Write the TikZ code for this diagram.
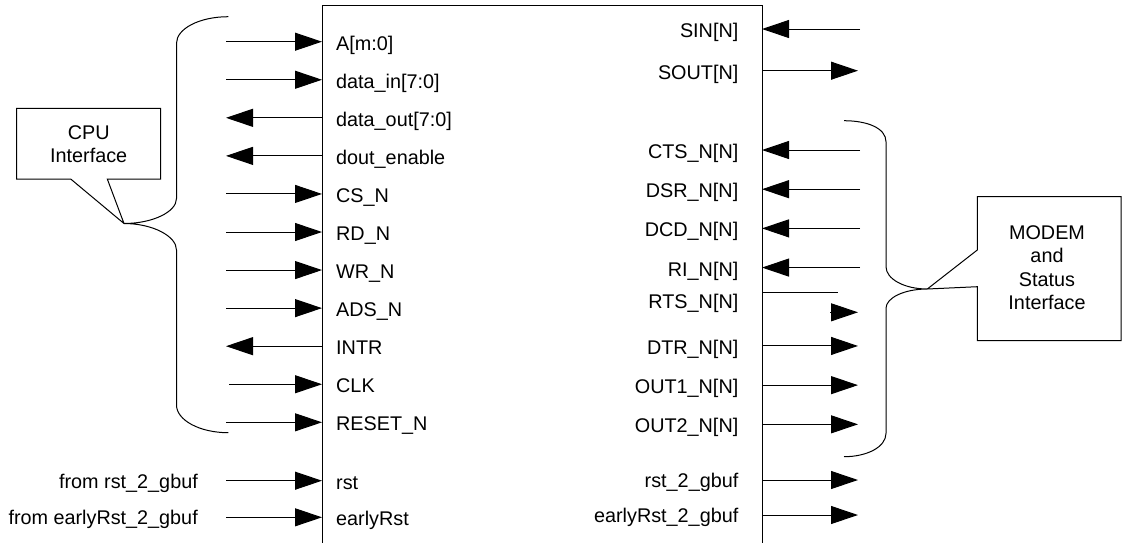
\documentclass[tikz,border=0pt]{standalone}
\usepackage{fontspec}
\setmainfont{Liberation Sans}
\usetikzlibrary{arrows.meta}
\begin{document}
\begin{tikzpicture}[x=1pt,y=-1pt,
  wire/.style={line width=1pt},
  arr/.tip={Triangle[length=27pt,width=18pt]},
  toin/.style={wire,-arr},
  toout/.style={wire,arr-},
  lbl/.style={inner sep=0pt,font=\fontsize{19.8}{23.5}\selectfont},
  callout/.style={inner sep=0pt,align=center,font=\fontsize{19.8}{23.5}\selectfont},
]
\useasboundingbox (0,0) rectangle (1122,542);
% chip outline
\coordinate (chipBL) at (322,546);
\coordinate (chipTL) at (322,5);
\coordinate (chipTR) at (762,5);
\coordinate (chipBR) at (762,546);
\draw[wire] (chipBL) -- (chipTL) -- (chipTR) -- (chipBR);
% left pins
\foreach \i/\t in {0/A[m:0],1/data\_in[7:0],2/data\_out[7:0],3/dout\_enable,4/CS\_N,5/RD\_N,6/WR\_N,7/ADS\_N,8/INTR,9/CLK,10/RESET\_N}{
  \pgfmathsetmacro\yy{41.7+38.06*\i}
  \coordinate (lp\i) at (322,\yy);
  \coordinate (le\i) at (226,\yy);
  \node[lbl,anchor=base west] (lt\i) at (336,\yy+8.3) {\t};
}
\foreach \i in {0,1,4,5,6,7,10}{\draw[toin] (le\i) -- (lp\i);}
\coordinate (le9b) at (229,{41.7+38.06*9});
\draw[toin] (le9b) -- (lp9);
\foreach \i in {2,3,8}{\draw[toout] (le\i) -- (lp\i);}
% reset pins (left)
\coordinate (lpr) at (322,480.7);
\coordinate (ler) at (226,480.7);
\coordinate (lpe) at (322,517.3);
\coordinate (lee) at (226,517.3);
\draw[toin] (ler) -- (lpr);
\draw[toin] (lee) -- (lpe);
\node[lbl,anchor=base west] (ltr) at (336,489) {rst};
\node[lbl,anchor=base west] (lte) at (336,525.6) {earlyRst};
\node[lbl,anchor=base east] (fromr) at (198,488) {from rst\_2\_gbuf};
\node[lbl,anchor=base east] (frome) at (198,524.6) {from earlyRst\_2\_gbuf};
% right pins
\coordinate (rpS) at (762,29);
\coordinate (reS) at (860,29);
\draw[toin] (reS) -- (rpS);
\node[lbl,anchor=base east] (rtS) at (738.5,37.5) {SIN[N]};
\coordinate (rpO) at (762,70.7);
\coordinate (reO) at (858,70.7);
\draw[toin] (rpO) -- (reO);
\node[lbl,anchor=base east] (rtO) at (738.5,79.2) {SOUT[N]};
\foreach \i/\t in {0/CTS\_N[N],1/DSR\_N[N],2/DCD\_N[N],3/RI\_N[N],5/DTR\_N[N],6/OUT1\_N[N],7/OUT2\_N[N]}{
  \pgfmathsetmacro\yy{150+39.19*\i}
  \coordinate (rp\i) at (762,\yy);
  \node[lbl,anchor=base east] (rt\i) at (738.5,\yy+8.5) {\t};
}
\foreach \i in {0,1,2,3}{
  \pgfmathsetmacro\yy{150+39.19*\i}
  \coordinate (re\i) at (860,\yy);
  \draw[toin] (re\i) -- (rp\i);
}
\foreach \i in {5,6,7}{
  \pgfmathsetmacro\yy{150+39.19*\i}
  \coordinate (re\i) at (858,\yy);
  \draw[toin] (rp\i) -- (re\i);
}
% RTS
\coordinate (rp4) at (762,292.3);
\coordinate (re4) at (838,292.3);
\draw[wire] (rp4) -- (re4);
\coordinate (rtsA) at (830,312.3);
\coordinate (rtsB) at (858,312.3);
\draw[toin] (rtsA) -- (rtsB);
\node[lbl,anchor=base east] (rt4) at (738.5,308.5) {RTS\_N[N]};
% right reset outputs
\coordinate (rpr) at (762,480);
\coordinate (rer) at (858,480);
\coordinate (rpe) at (762,515);
\coordinate (ree) at (858,515);
\draw[toin] (rpr) -- (rer);
\draw[toin] (rpe) -- (ree);
\node[lbl,anchor=base east] (rtr) at (738.5,487.5) {rst\_2\_gbuf};
\node[lbl,anchor=base east] (rte) at (738.5,522.5) {earlyRst\_2\_gbuf};
% CPU brace
\coordinate (cputip) at (124,223.5);
\draw[wire] (228.3,16.7) .. controls (199.4,16.7) and (176.5,28.7) .. (176.5,43.3)
  -- (176.5,198.5) .. controls (176.5,212) and (152.4,223.5) .. (cputip)
  .. controls (152.4,223.5) and (176.5,236) .. (176.5,250)
  -- (176.5,405) .. controls (176.5,420) and (199.4,432.7) .. (228.3,432.7);
% CPU callout
\node[callout] (cpu) at (88.7,144) {CPU\\Interface};
\draw[wire] (cputip) -- (70.7,179) -- (16.7,179) -- (16.7,108.3) -- (160.7,108.3) -- (160.7,179) -- (107.3,179) -- (cputip);
% MODEM brace
\coordinate (mtip) at (927.3,289);
\draw[wire] (844,120.7) .. controls (867,120.7) and (886,128) .. (886,141.7)
  -- (886,266.7) .. controls (886,279) and (904.4,289) .. (mtip)
  .. controls (904.4,289) and (886,297.7) .. (886,308.3)
  -- (886,433.3) .. controls (886,447) and (867,456.7) .. (844,456.7);
% MODEM callout
\node[callout] (modem) at (1047,267.5) {MODEM\\and\\Status\\Interface};
\draw[wire] (mtip) -- (977.3,250) -- (977.3,196.7) -- (1121,196.7) -- (1121,340.7) -- (977.3,340.7) -- (977.3,286.7) -- (mtip);
\end{tikzpicture}
\end{document}
